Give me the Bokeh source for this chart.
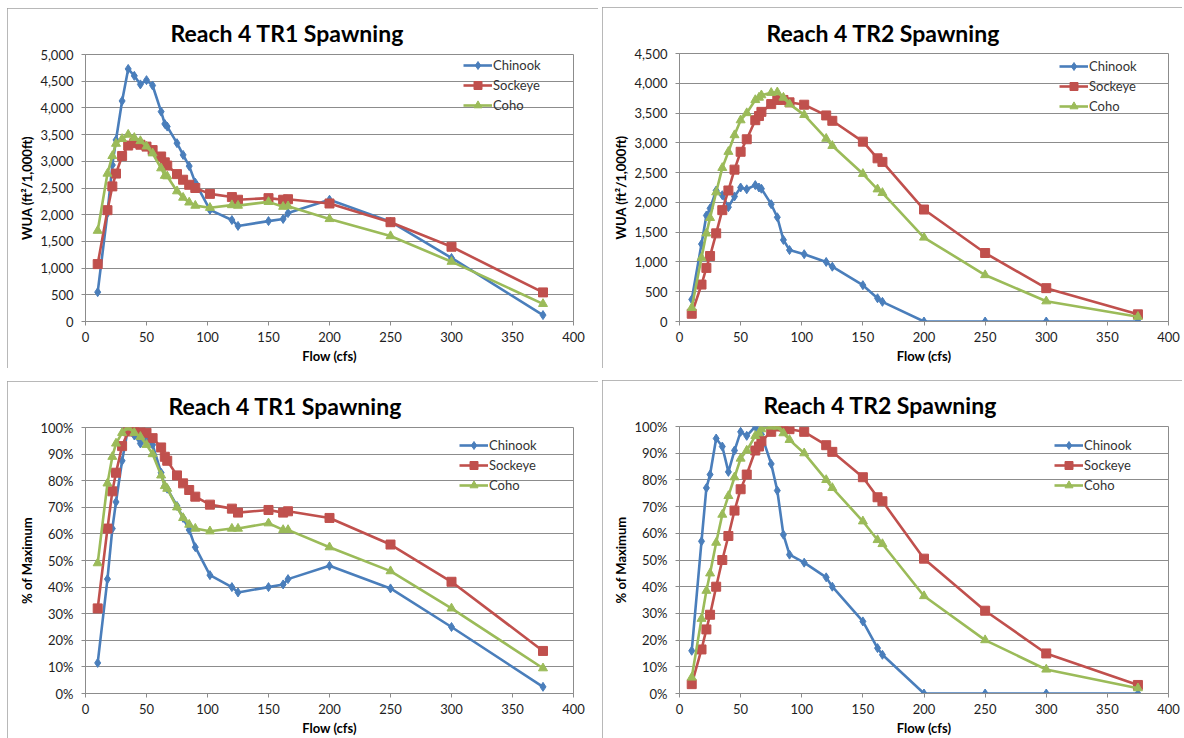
from bokeh.plotting import figure
from bokeh.layouts import row, column
from bokeh.models import Range1d, FixedTicker, NumeralTickFormatter, PrintfTickFormatter
from bokeh.embed import file_html
from bokeh.resources import INLINE

# ---------------- data ----------------
FLOW = [10, 18, 22, 25, 30, 35, 40, 45, 50, 55, 62, 65, 67, 75, 80, 85, 90,
        102, 120, 125, 150, 162, 166, 200, 250, 300, 375]
SPECIES = ["Chinook", "Sockeye", "Coho"]
X_TICKS = [0, 50, 100, 150, 200, 250, 300, 350, 400]

tr1_wua_chinook = [550, 2030, 2930, 3400, 4130, 4730, 4600, 4440, 4520, 4420, 3930, 3700, 3650,
                   3340, 3120, 2910, 2600, 2090, 1900, 1790, 1880, 1920, 2030, 2280, 1870, 1190, 120]
tr1_wua_sockeye = [1075, 2085, 2530, 2770, 3100, 3295, 3340, 3310, 3275, 3210, 3090, 2980, 2920,
                   2760, 2655, 2560, 2500, 2390, 2330, 2280, 2310, 2280, 2290, 2210, 1860, 1400, 545]
tr1_wua_coho = [1700, 2770, 3100, 3330, 3420, 3500, 3440, 3380, 3280, 3150, 2870, 2730, 2720,
                2440, 2320, 2230, 2170, 2130, 2180, 2170, 2240, 2150, 2160, 1920, 1600, 1120, 330]

tr2_wua_chinook = [370, 1300, 1780, 1900, 2200, 2120, 1920, 2100, 2250, 2220, 2290, 2250, 2230,
                   1970, 1750, 1370, 1200, 1130, 1000, 920, 610, 390, 330, 0, 0, 0, 0]
tr2_wua_sockeye = [130, 620, 900, 1100, 1480, 1870, 2200, 2550, 2850, 3060, 3380, 3450, 3520,
                   3650, 3720, 3720, 3680, 3640, 3460, 3370, 3020, 2740, 2680, 1880, 1150, 560, 120]
tr2_wua_coho = [230, 1070, 1480, 1740, 2170, 2580, 2850, 3130, 3380, 3500, 3720, 3760, 3800,
                3840, 3850, 3760, 3650, 3470, 3070, 2950, 2480, 2220, 2160, 1410, 780, 340, 80]

tr1_pct_chinook = [11.5, 43, 62, 72, 87.5, 100, 97, 94, 95.5, 93.5, 83, 78, 77, 70.5, 66, 61.5, 55,
                   44.5, 40, 38, 40, 41, 43, 48, 39.5, 25, 2.5]
tr1_pct_sockeye = [32, 62, 76, 83, 93, 98.5, 100, 99, 98, 96, 92.5, 89, 87.5, 82, 79, 76.5, 74,
                   71, 69.5, 68, 69, 68, 68.5, 66, 56, 42, 16]
tr1_pct_coho = [49, 79, 89, 94, 98, 100, 98, 96.5, 93.5, 90, 82, 78, 77, 70, 66, 63.5, 62,
                61, 62, 62, 64, 61.5, 61.5, 55, 46, 32, 9.5]

tr2_pct_chinook = [16, 57, 77, 82, 95.5, 92.5, 83, 91, 98, 96.5, 100, 98, 97, 86, 76, 59.5, 52,
                   49, 43.5, 40, 27, 17, 14.5, 0, 0, 0, 0]
tr2_pct_sockeye = [3.5, 16.5, 24, 29.5, 40, 50, 59, 68.5, 76.5, 82, 91, 92.5, 94.5, 98, 100, 100, 99,
                   98, 93, 90.5, 81, 73.5, 72, 50.5, 31, 15, 3.2]
tr2_pct_coho = [6, 28, 38.5, 45, 56.5, 67, 74, 81, 88, 91, 96.5, 97.5, 99, 100, 100, 97.5, 95,
                90, 80, 77, 64.5, 57.5, 56, 36.5, 20, 9, 2]

WUA_TR1_TICKS = list(range(0, 5001, 500))
WUA_TR2_TICKS = list(range(0, 4501, 500))
PCT_TICKS = list(range(0, 101, 10))

# ---------------- style ----------------
FONT = "Lato"
COLORS = ["#4A7EBB", "#C0504D", "#9BBB59"]
MARKERS = ["diamond", "square", "triangle"]
MSIZE = [9, 9, 9]
GRID = "#8C8C8C"
TXT = "#1e1e1e"


def make_panel(title, ylabel, yticks, yfmt, series, g):
    p = figure(width=g["w"], height=g["h"], output_backend="svg", toolbar_location=None,
               x_range=Range1d(0, 400), y_range=Range1d(yticks[0], yticks[-1]),
               min_border_left=g["l"], min_border_right=g["r"],
               min_border_top=g["t"], min_border_bottom=g["b"],
               margin=g["margin"],
               background_fill_color="white", border_fill_color="white",
               styles={"outline": "1px solid #a0a0a0", "outline-offset": "-1px"})
    p.title.text = title
    p.title.text_font = FONT
    p.title.text_font_size = "23px"
    p.title.text_font_style = "bold"
    p.title.text_color = "#000000"
    p.title.align = "left"
    p.title.offset = g["toff"]
    p.title.standoff = g["tstand"]

    p.outline_line_color = GRID
    p.outline_line_width = 1
    p.xgrid.visible = False
    p.ygrid.grid_line_color = GRID
    p.ygrid.grid_line_width = 1

    p.xaxis.ticker = FixedTicker(ticks=X_TICKS)
    p.yaxis.ticker = FixedTicker(ticks=yticks)
    p.yaxis.formatter = yfmt
    for ax in (p.xaxis, p.yaxis):
        ax.axis_line_color = GRID
        ax.major_tick_line_color = GRID
        ax.major_tick_out = 4
        ax.major_tick_in = 0
        ax.minor_tick_line_color = None
        ax.major_label_text_font = FONT
        ax.major_label_text_font_size = "13px"
        ax.major_label_text_color = TXT
        ax.axis_label_text_font = FONT
        ax.axis_label_text_font_size = "13px"
        ax.axis_label_text_font_style = "bold"
        ax.axis_label_text_color = "#000000"
    p.xaxis.axis_label = "Flow (cfs)"
    p.yaxis.axis_label = ylabel
    p.xaxis.major_label_standoff = 6
    p.xaxis.axis_label_standoff = 3
    p.yaxis.major_label_standoff = 8
    p.yaxis.axis_label_standoff = 2

    for name, vals, c, m, s in zip(SPECIES, series, COLORS, MARKERS, MSIZE):
        p.line(FLOW, vals, line_color=c, line_width=2.6, legend_label=name)
        p.scatter(FLOW, vals, marker=m, size=s, fill_color=c, line_color=c,
                  legend_label=name)

    lg = p.legend[0]
    lg.location = g["leg"]
    lg.background_fill_alpha = 0
    lg.border_line_color = None
    lg.padding = 0
    lg.margin = 0
    lg.spacing = 0
    lg.glyph_width = 29
    lg.glyph_height = 20
    lg.label_height = 20
    lg.label_standoff = 1
    lg.label_text_font = FONT
    lg.label_text_font_size = "13px"
    lg.label_text_color = "#333333"
    return p


fmt_wua = NumeralTickFormatter(format="0,0")
fmt_pct = PrintfTickFormatter(format="%d%%")

pA = make_panel("Reach 4 TR1 Spawning", "WUA (ft\u00b2/1,000ft)", WUA_TR1_TICKS, fmt_wua,
                [tr1_wua_chinook, tr1_wua_sockeye, tr1_wua_coho],
                dict(w=591, h=360, l=78, r=25, t=46, b=45, margin=(8, 2, 2, 7),
                     toff=85, tstand=15, leg=(378, 206)))
pB = make_panel("Reach 4 TR2 Spawning", "WUA (ft\u00b2/1,000ft)", WUA_TR2_TICKS, NumeralTickFormatter(format="0,0"),
                [tr2_wua_chinook, tr2_wua_sockeye, tr2_wua_coho],
                dict(w=580, h=361, l=77, r=14, t=45, b=47, margin=(7, 2, 2, 2),
                     toff=87, tstand=14, leg=(380, 205)))
pC = make_panel("Reach 4 TR1 Spawning", "% of Maximum", PCT_TICKS, fmt_pct,
                [tr1_pct_chinook, tr1_pct_sockeye, tr1_pct_coho],
                dict(w=591, h=357, l=78, r=25, t=46, b=43, margin=(11, 2, 0, 7),
                     toff=83, tstand=15, leg=(374, 198)))
pD = make_panel("Reach 4 TR2 Spawning", "% of Maximum", PCT_TICKS, PrintfTickFormatter(format="%d%%"),
                [tr2_pct_chinook, tr2_pct_sockeye, tr2_pct_coho],
                dict(w=580, h=358, l=77, r=14, t=46, b=43, margin=(10, 2, 0, 2),
                     toff=84, tstand=15, leg=(375, 198)))

layout = column(row(pA, pB, spacing=0), row(pC, pD, spacing=0), spacing=0)

open("out.html", "w").write(file_html(layout, INLINE))
